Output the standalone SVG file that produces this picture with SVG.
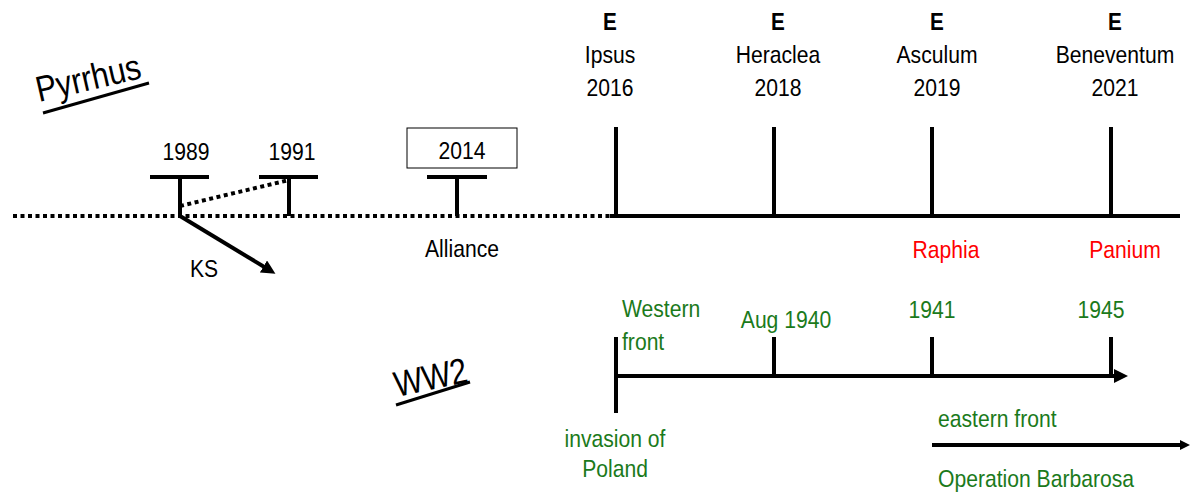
<svg xmlns="http://www.w3.org/2000/svg" width="1190" height="493" viewBox="0 0 1190 493">
  <style>
    text { font-family: "Liberation Sans", Arial, sans-serif; font-size: 24px; fill: #000; }
    .c { text-anchor: middle; }
    .b { font-weight: bold; font-size: 23px; }
    .red { fill: #ff0000; }
    .grn { fill: #1b7a1b; }
    .title { font-size: 36px; }
    .ln { stroke: #000; stroke-width: 4; fill: none; }
    .ul { stroke: #000; stroke-width: 3; }
    .dot { stroke: #000; stroke-width: 4; fill: none; stroke-dasharray: 4 3.5; }
  </style>
  <defs>
    <marker id="arr" markerWidth="10" markerHeight="10" refX="2" refY="5" orient="auto" markerUnits="userSpaceOnUse" viewBox="0 0 10 10">
      <path d="M0,0 L10,5 L0,10 Z" fill="#000"/>
    </marker>
    <marker id="arrBig" viewBox="0 0 14 14" refX="3" refY="7" markerWidth="14" markerHeight="14" orient="auto" markerUnits="userSpaceOnUse">
      <path d="M0,0 L14,7 L0,14 Z" fill="#000"/>
    </marker>
  </defs>

  <!-- section headings (condensed, tilted lettering with a steeper underline) -->
  <g id="pyrrhus-title">
    <text class="title" transform="translate(39,102) rotate(-13) scale(0.86 1)">Pyrrhus</text>
    <line class="ul" x1="43" y1="113" x2="149" y2="83"/>
  </g>
  <g id="ww2-title">
    <text class="title" transform="translate(397,397) rotate(-12) scale(0.84 1)">WW2</text>
    <line class="ul" x1="396" y1="405" x2="470" y2="382"/>
  </g>

  <!-- timelines and connectors -->
  <g id="connectors">
    <line class="dot" x1="13" y1="216" x2="610" y2="216"/>
    <line class="ln" x1="610" y1="216" x2="1180" y2="216"/>
    <line class="dot" x1="180" y1="206" x2="289" y2="180"/>
    <line class="ln" x1="180" y1="216" x2="266" y2="268" marker-end="url(#arrBig)"/>
    <line class="ln" x1="616" y1="376" x2="1117" y2="376" marker-end="url(#arrBig)"/>
    <line class="ln" x1="932" y1="445" x2="1182" y2="445" marker-end="url(#arr)"/>
  </g>

  <!-- Pyrrhus markers -->
  <g id="m1989">
    <path class="ln" d="M150,177 H209 M180,177 V216"/>
    <text class="c" transform="translate(186,160) scale(0.88 1)">1989</text>
  </g>
  <g id="m1991">
    <path class="ln" d="M259,177 H318 M289,177 V216"/>
    <text class="c" transform="translate(292,160) scale(0.88 1)">1991</text>
  </g>
  <g id="m2014">
    <rect x="407" y="128" width="110" height="40" fill="none" stroke="#000" stroke-width="1"/>
    <text class="c" transform="translate(462,159) scale(0.88 1)">2014</text>
    <path class="ln" d="M427,177 H487 M457,177 V216"/>
  </g>
  <g id="ks">
    <text class="c" transform="translate(204,277) scale(0.88 1)">KS</text>
  </g>
  <g id="alliance">
    <text class="c" transform="translate(462,257) scale(0.88 1)">Alliance</text>
  </g>

  <!-- battles -->
  <g id="ipsus">
    <line class="ln" x1="616" y1="127" x2="616" y2="216"/>
    <text class="c b" transform="translate(610,30) scale(0.9 1)">E</text>
    <text class="c" transform="translate(610,63) scale(0.88 1)">Ipsus</text>
    <text class="c" transform="translate(610,96) scale(0.88 1)">2016</text>
  </g>
  <g id="heraclea">
    <line class="ln" x1="774" y1="127" x2="774" y2="216"/>
    <text class="c b" transform="translate(778,30) scale(0.9 1)">E</text>
    <text class="c" transform="translate(778,63) scale(0.88 1)">Heraclea</text>
    <text class="c" transform="translate(778,96) scale(0.88 1)">2018</text>
  </g>
  <g id="asculum">
    <line class="ln" x1="932" y1="127" x2="932" y2="216"/>
    <text class="c b" transform="translate(937,30) scale(0.9 1)">E</text>
    <text class="c" transform="translate(937,63) scale(0.88 1)">Asculum</text>
    <text class="c" transform="translate(937,96) scale(0.88 1)">2019</text>
    <text class="c red" transform="translate(946,258) scale(0.88 1)">Raphia</text>
  </g>
  <g id="beneventum">
    <line class="ln" x1="1111" y1="127" x2="1111" y2="216"/>
    <text class="c b" transform="translate(1115,30) scale(0.9 1)">E</text>
    <text class="c" transform="translate(1115,63) scale(0.88 1)">Beneventum</text>
    <text class="c" transform="translate(1115,96) scale(0.88 1)">2021</text>
    <text class="c red" transform="translate(1125,258) scale(0.88 1)">Panium</text>
  </g>

  <!-- WW2 markers -->
  <g id="western-front">
    <line class="ln" x1="616" y1="337" x2="616" y2="413"/>
    <text class="grn" transform="translate(622,317) scale(0.88 1)">Western</text>
    <text class="grn" transform="translate(622,350) scale(0.88 1)">front</text>
    <text class="c grn" transform="translate(615,447) scale(0.88 1)">invasion of</text>
    <text class="c grn" transform="translate(615,477) scale(0.88 1)">Poland</text>
  </g>
  <g id="aug1940">
    <line class="ln" x1="774" y1="337" x2="774" y2="376"/>
    <text class="c grn" transform="translate(786,328) scale(0.88 1)">Aug 1940</text>
  </g>
  <g id="y1941">
    <line class="ln" x1="932" y1="337" x2="932" y2="376"/>
    <text class="c grn" transform="translate(932,318) scale(0.88 1)">1941</text>
  </g>
  <g id="y1945">
    <line class="ln" x1="1111" y1="337" x2="1111" y2="376"/>
    <text class="c grn" transform="translate(1101,318) scale(0.88 1)">1945</text>
  </g>
  <g id="eastern-front">
    <text class="grn" transform="translate(938,427) scale(0.88 1)">eastern front</text>
    <text class="grn" transform="translate(938,487) scale(0.88 1)">Operation Barbarosa</text>
  </g>
</svg>
